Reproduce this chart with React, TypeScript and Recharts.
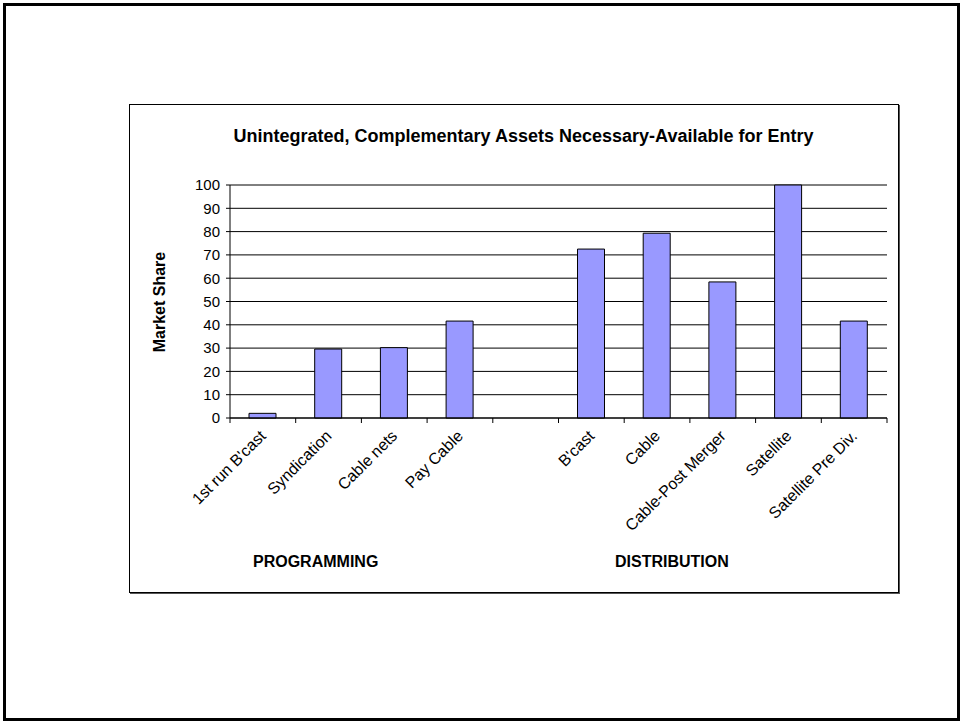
import React from "react";
import { BarChart, Bar, XAxis, YAxis, CartesianGrid } from "recharts";

// category slots along the x axis ("" is the gap between the two groups)
const categories = [
  "1st run B'cast",
  "Syndication",
  "Cable nets",
  "Pay Cable",
  "",
  "B'cast",
  "Cable",
  "Cable-Post Merger",
  "Satellite",
  "Satellite Pre Div.",
];
const marketShare = [2, 29.6, 30.2, 41.6, null, 72.5, 79.3, 58.4, 100, 41.6];
const yTicks = [0, 10, 20, 30, 40, 50, 60, 70, 80, 90, 100];
const groupLabels = ["PROGRAMMING", "DISTRIBUTION"];

const chartData = categories.map((name, i) => ({ name, share: marketShare[i] }));

const FONT = "'Liberation Sans', Arial, Helvetica, sans-serif";
const CHART_W = 770;
const CHART_H = 489;
const MARGIN = { top: 81, right: 12, left: 41, bottom: 75 };
const Y_AXIS_W = 60;
const PLOT_W = CHART_W - MARGIN.left - Y_AXIS_W - MARGIN.right;
const SLOT = PLOT_W / categories.length;
const TICK_SIZE = 5;
const TICK_MARGIN = 4;

// Excel-style x ticks: marks sit on the slot boundaries, labels slant at 45deg
const CategoryTick = (props: any) => {
  const { x, y, payload, index } = props;
  const axisY = y - TICK_SIZE - TICK_MARGIN;
  const left = x - SLOT / 2;
  const last = index === categories.length - 1;
  const tx = x + 4;
  const ty = axisY + 19;
  return (
    <g>
      <line x1={left} x2={left} y1={axisY} y2={axisY + TICK_SIZE} stroke="#000" />
      {last && <line x1={x + SLOT / 2} x2={x + SLOT / 2} y1={axisY} y2={axisY + TICK_SIZE} stroke="#000" />}
      <text
        x={tx}
        y={ty}
        textAnchor="end"
        fontSize={16}
        fontFamily={FONT}
        fill="#000"
        transform={`rotate(-45, ${tx}, ${ty})`}
      >
        {payload.value}
      </text>
    </g>
  );
};

export default function App() {
  return (
    <div style={{ position: "absolute", left: 0, top: 0, width: 960, height: 721, background: "#fff", fontFamily: FONT }}>
      {/* slide frame */}
      <div style={{ position: "absolute", left: 3, top: 3, width: 951, height: 712, border: "3px solid #000" }} />
      {/* chart box */}
      <div
        style={{
          position: "absolute",
          left: 129,
          top: 104,
          width: CHART_W - 2,
          height: CHART_H - 2,
          border: "1px solid #000",
          boxShadow: "1px 1px 0 #555",
        }}
      />
      <div style={{ position: "absolute", left: 129, top: 104 }}>
        <BarChart width={CHART_W} height={CHART_H} data={chartData} margin={MARGIN}>
          <CartesianGrid vertical={false} stroke="#000" strokeWidth={1} />
          <XAxis
            dataKey="name"
            interval={0}
            axisLine={{ stroke: "#000" }}
            tickLine={false}
            tickSize={TICK_SIZE}
            tickMargin={TICK_MARGIN}
            height={100}
            tick={<CategoryTick />}
          />
          <YAxis
            width={Y_AXIS_W}
            domain={[0, 100]}
            ticks={yTicks}
            interval={0}
            axisLine={{ stroke: "#000" }}
            tickLine={{ stroke: "#000" }}
            tickSize={4}
            tickMargin={6}
            tick={{ fill: "#000", fontSize: 15, fontFamily: FONT }}
          />
          <YAxis
            yAxisId="frame"
            orientation="right"
            width={0}
            domain={[0, 100]}
            axisLine={{ stroke: "#808080" }}
            tick={false}
            tickLine={false}
          />
          <Bar dataKey="share" fill="#9999FF" stroke="#000" strokeWidth={1} barSize={27} isAnimationActive={false} />
        </BarChart>
      </div>
      <div
        style={{
          position: "absolute",
          left: 130,
          width: 787,
          top: 126,
          textAlign: "center",
          fontSize: 18,
          fontWeight: "bold",
          whiteSpace: "nowrap",
        }}
      >
        Unintegrated, Complementary Assets Necessary-Available for Entry
      </div>
      <div
        style={{
          position: "absolute",
          left: 160,
          top: 302,
          transform: "translate(-50%, -50%) rotate(-90deg)",
          fontSize: 16,
          fontWeight: "bold",
          whiteSpace: "nowrap",
        }}
      >
        Market Share
      </div>
      <div style={{ position: "absolute", left: 253, top: 553, fontSize: 16, fontWeight: "bold" }}>{groupLabels[0]}</div>
      <div style={{ position: "absolute", left: 615, top: 553, fontSize: 16, fontWeight: "bold" }}>{groupLabels[1]}</div>
    </div>
  );
}
